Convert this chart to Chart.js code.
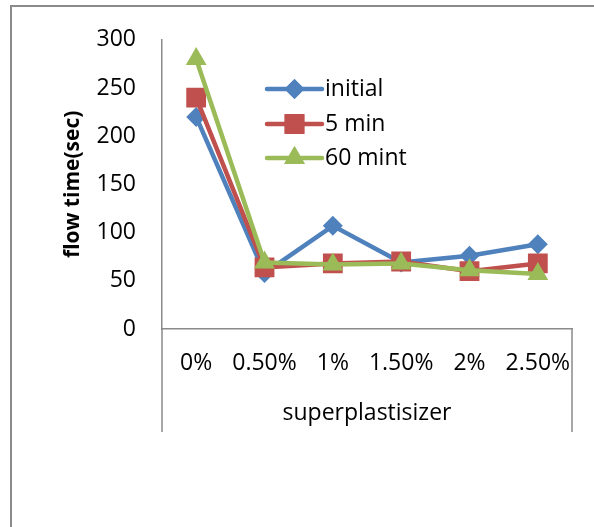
<!DOCTYPE html>
<html>
<head>
<meta charset="utf-8">
<script src="https://cdn.jsdelivr.net/npm/chart.js@4/dist/chart.umd.min.js"></script>
<style>
  html, body { margin: 0; padding: 0; background: #fff; overflow: hidden; }
  #frame {
    position: absolute; left: 10px; top: 5px; width: 800px; height: 800px;
    border-left: 2px solid #8a8a8a; border-top: 2px solid #8a8a8a;
    box-sizing: border-box;
  }
  #wrap { position: absolute; left: 0; top: 0; width: 594px; height: 527px; }
</style>
</head>
<body>
<div id="frame"></div>
<div id="wrap"><canvas id="chart" width="594" height="527"></canvas></div>
<script>
// Superplasticizer dosage vs. flow time
const categories = ['0%', '0.50%', '1%', '1.50%', '2%', '2.50%'];
const initialTimes = [220, 58, 107, 69, 76, 88];
const fiveMinTimes = [240, 64, 68, 70, 60, 68];
const sixtyMinTimes = [280, 69, 67, 68, 61, 57];
const yMin = 0, yMax = 300, yStep = 50;

const FONT = "'Open Sans', sans-serif";
const TEXT_SIZE = 23;
const AXIS_GREY = '#8a8a8a';

function series(label, data, color, style, radius, order) {
  return {
    label, data, order,
    borderColor: color, backgroundColor: color,
    borderWidth: 4.5, tension: 0,
    pointStyle: style, pointRadius: radius, pointHoverRadius: radius,
    pointBackgroundColor: color, pointBorderColor: color, pointBorderWidth: 0
  };
}

// Legend drawn inside the plot, using each dataset's own styles
const innerLegend = {
  id: 'innerLegend',
  afterDraw(chart) {
    const ctx = chart.ctx;
    const rows = [89, 124, 158];
    const x0 = 267, x1 = 322, tx = 325;
    ctx.save();
    chart.data.datasets.forEach((ds, i) => {
      const y = rows[i];
      ctx.strokeStyle = ds.borderColor;
      ctx.lineWidth = ds.borderWidth;
      ctx.lineCap = 'round';
      ctx.beginPath(); ctx.moveTo(x0, y); ctx.lineTo(x1, y); ctx.stroke();
      ctx.fillStyle = ds.pointBackgroundColor;
      Chart.helpers.drawPoint(ctx, {
        pointStyle: ds.pointStyle, radius: ds.pointRadius, rotation: 0, borderWidth: 0
      }, (x0 + x1) / 2, y);
      ctx.fill();
      ctx.fillStyle = '#000';
      ctx.font = TEXT_SIZE + 'px ' + FONT;
      ctx.textBaseline = 'middle';
      ctx.textAlign = 'left';
      ctx.fillText(ds.label, tx, y);
    });
    ctx.restore();
  }
};

// Side rules framing the category-axis band
const axisBand = {
  id: 'axisBand',
  afterDraw(chart) {
    const { ctx, chartArea } = chart;
    const xs = chart.scales.x;
    ctx.save();
    ctx.strokeStyle = AXIS_GREY;
    ctx.lineWidth = 1.5;
    ctx.beginPath();
    ctx.moveTo(chartArea.left, chartArea.bottom); ctx.lineTo(chartArea.left, xs.bottom);
    ctx.moveTo(chartArea.right, chartArea.bottom); ctx.lineTo(chartArea.right, xs.bottom);
    ctx.stroke();
    ctx.restore();
  }
};

new Chart(document.getElementById('chart'), {
  type: 'line',
  data: {
    labels: categories,
    datasets: [
      series('initial', initialTimes, '#4F81BD', 'rectRot', 10, 2),
      series('5 min', fiveMinTimes, '#C0504D', 'rect', 14, 1),
      series('60 mint', sixtyMinTimes, '#9BBB59', 'triangle', 12, 0)
    ]
  },
  options: {
    responsive: false,
    animation: false,
    events: [],
    layout: { padding: { left: 0, top: 36, right: 22, bottom: 95 } },
    plugins: { legend: { display: false }, tooltip: { enabled: false } },
    scales: {
      x: {
        type: 'category',
        offset: true,
        grid: { display: false, drawTicks: false },
        border: { display: true, color: AXIS_GREY, width: 1.5 },
        ticks: { color: '#000', font: { family: FONT, size: TEXT_SIZE }, padding: 21, maxRotation: 0, autoSkip: false },
        title: { display: true, text: 'superplastisizer', color: '#000',
                 font: { family: FONT, size: TEXT_SIZE }, padding: { top: 0, bottom: 5 } },
        afterFit(scale) { scale.height = 103; }
      },
      y: {
        min: yMin, max: yMax,
        grid: { display: false, drawTicks: false },
        border: { display: true, color: AXIS_GREY, width: 1.5 },
        ticks: { stepSize: yStep, color: '#000', font: { family: FONT, size: TEXT_SIZE }, padding: 26 },
        title: { display: true, text: 'flow time(sec)', color: '#000',
                 font: { family: FONT, size: 21, weight: 'bold' }, padding: { top: 60, bottom: 0 } },
        afterFit(scale) { scale.width = 162; }
      }
    }
  },
  plugins: [innerLegend, axisBand]
});
</script>
</body>
</html>
